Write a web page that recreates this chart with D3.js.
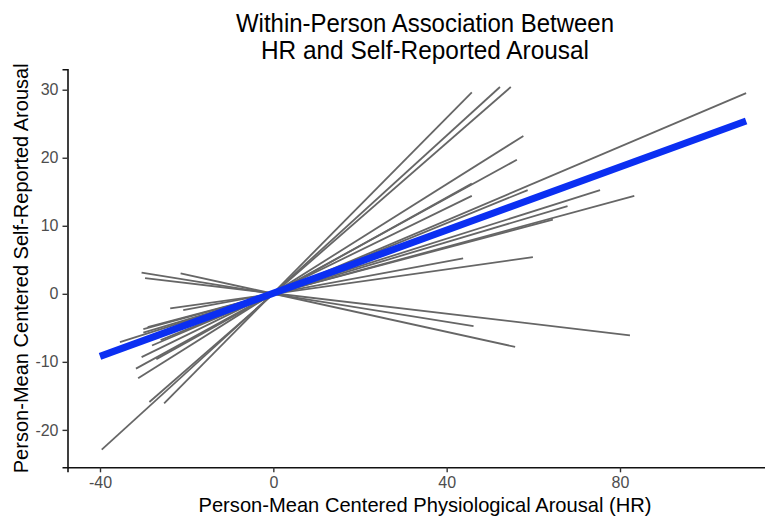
<!DOCTYPE html>
<html>
<head>
<meta charset="utf-8">
<script src="https://cdn.jsdelivr.net/npm/d3@7"></script>
<style>
    body { margin: 0; background: #fff; }
    svg { display: block; font-family: 'Liberation Sans', Arial, sans-serif; }
</style>
</head>
<body>
<div id="chart"></div>
<script>
// per-person fitted lines, endpoints
const personStartX = [-30.4, -29.6, -21.4, -25.2, -39.6, -28.6, -31.2, -31.7, -27.0, -30.4, -28.0, -26.0, -35.4, -30.0, -30.0, -29.0, -20.8, -23.8];
const personStartY = [3.1, 2.3, 3.0, -16.1, -22.9, -15.9, -12.4, -11.0, -9.6, -9.3, -7.6, -6.8, -7.1, -5.7, -5.2, -4.9, -2.4, -2.15];
const personEndX = [46.2, 82.3, 55.8, 45.8, 52.3, 54.8, 57.7, 56.2, 45.8, 45.8, 109.1, 58.7, 75.4, 67.9, 83.3, 64.5, 43.8, 59.9];
const personEndY = [-4.75, -6.1, -7.8, 29.6, 30.4, 30.4, 23.2, 19.7, 16.2, 14.4, 29.5, 15.25, 15.25, 12.9, 14.4, 10.9, 5.2, 5.4];

// pooled fixed-effect line
const pooledX = [-40, 109.1];
const pooledY = [-9.2, 25.4];

const xTicks = [-40, 0, 40, 80];
const yTicks = [-20, -10, 0, 10, 20, 30];

const titleLines = ['Within-Person Association Between', 'HR and Self-Reported Arousal'];
const xTitle = 'Person-Mean Centered Physiological Arousal (HR)';
const yTitle = 'Person-Mean Centered Self-Reported Arousal';

const width = 765;
const height = 518;
const panel = { left: 67.5, right: 782.5, top: 69.3, bottom: 467.3 };
const midX = (panel.left + panel.right) / 2;

const svg = d3.select('#chart')
    .append('svg')
    .attr('width', width)
    .attr('height', height);

const x = d3.scaleLinear()
    .domain([-47.5, 117.5])
    .range([panel.left, panel.right]);

const y = d3.scaleLinear()
    .domain([-25.5, 33.0])
    .range([panel.bottom, panel.top]);

const people = personStartX.map((d, i) => ({
    x0: d, y0: personStartY[i], x1: personEndX[i], y1: personEndY[i]
}));

svg.append('g')
    .selectAll('line')
    .data(people)
    .enter()
    .append('line')
    .attr('x1', d => x(d.x0))
    .attr('y1', d => y(d.y0))
    .attr('x2', d => x(d.x1))
    .attr('y2', d => y(d.y1))
    .attr('stroke', '#666')
    .attr('stroke-width', 1.8);

svg.append('line')
    .attr('x1', x(pooledX[0]))
    .attr('y1', y(pooledY[0]))
    .attr('x2', x(pooledX[1]))
    .attr('y2', y(pooledY[1]))
    .attr('stroke', '#0b2ff2')
    .attr('stroke-width', 7);

// axes
const xAxis = svg.append('g')
    .attr('transform', `translate(0, ${panel.bottom})`)
    .call(d3.axisBottom(x)
        .tickValues(xTicks)
        .tickSize(5)
        .tickPadding(4)
        .tickFormat(d => String(d)));

const yAxis = svg.append('g')
    .attr('transform', `translate(${panel.left}, 0)`)
    .call(d3.axisLeft(y)
        .tickValues(yTicks)
        .tickSize(5)
        .tickPadding(4)
        .tickFormat(d => String(d)));

[xAxis, yAxis].forEach(g => {
    g.select('.domain').attr('stroke', '#111').attr('stroke-width', 1.6);
    g.selectAll('.tick line').attr('stroke', '#333').attr('stroke-width', 1.4);
    g.selectAll('.tick text')
        .style('font-family', "'Liberation Sans', Arial, sans-serif")
        .style('font-size', '16px')
        .attr('fill', '#4d4d4d');
});

// titles, squeezed a little to the narrower face of the original
const titleWidths = [378, 328];
svg.append('g')
    .selectAll('text')
    .data(titleLines)
    .enter()
    .append('text')
    .attr('x', midX)
    .attr('y', (d, i) => 32 + i * 27)
    .attr('text-anchor', 'middle')
    .attr('textLength', (d, i) => titleWidths[i])
    .attr('lengthAdjust', 'spacingAndGlyphs')
    .style('font-size', '25px')
    .attr('fill', '#000')
    .text(d => d);

svg.append('text')
    .attr('x', midX)
    .attr('y', 512)
    .attr('text-anchor', 'middle')
    .attr('textLength', 453)
    .attr('lengthAdjust', 'spacingAndGlyphs')
    .style('font-size', '21px')
    .attr('fill', '#000')
    .text(xTitle);

svg.append('text')
    .attr('transform', `translate(28, ${(panel.top + panel.bottom) / 2}) rotate(-90)`)
    .attr('text-anchor', 'middle')
    .attr('textLength', 410)
    .attr('lengthAdjust', 'spacingAndGlyphs')
    .style('font-size', '21px')
    .attr('fill', '#000')
    .text(yTitle);
</script>
</body>
</html>
